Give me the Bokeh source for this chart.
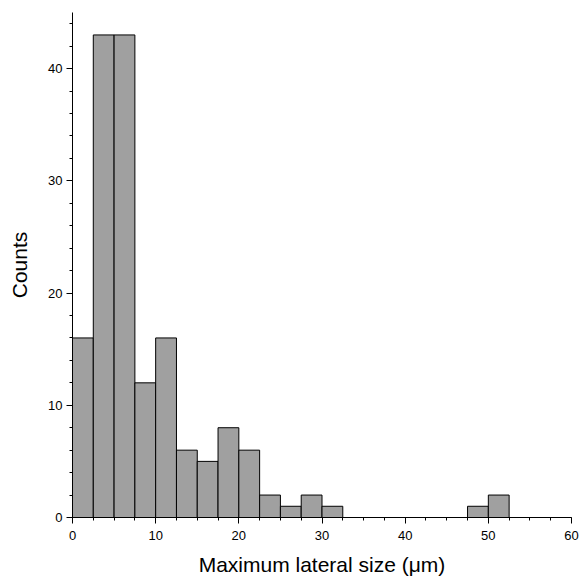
from bokeh.plotting import figure
from bokeh.models import Range1d, SingleIntervalTicker
from bokeh.embed import file_html
from bokeh.resources import INLINE

# Histogram bins (µm) and counts
bin_left = [0, 2.5, 5, 7.5, 10, 12.5, 15, 17.5, 20, 22.5, 25, 27.5, 30, 47.5, 50]
bin_right = [2.5, 5, 7.5, 10, 12.5, 15, 17.5, 20, 22.5, 25, 27.5, 30, 32.5, 50, 52.5]
counts = [16, 43, 43, 12, 16, 6, 5, 8, 6, 2, 1, 2, 1, 1, 2]

FONT = "Liberation Sans"

p = figure(output_backend="svg", toolbar_location=None,
           frame_width=499, frame_height=505,
           x_range=Range1d(0, 60), y_range=Range1d(0, 45),
           min_border_left=72, min_border_right=8, min_border_top=12, min_border_bottom=50)

p.quad(left=bin_left, right=bin_right, bottom=0, top=counts,
       fill_color="#a0a0a0", line_color="black", line_width=1)

p.xgrid.visible = False
p.ygrid.visible = False
p.outline_line_color = None

p.xaxis.ticker = SingleIntervalTicker(interval=10, num_minor_ticks=4)
p.yaxis.ticker = SingleIntervalTicker(interval=10, num_minor_ticks=5)

for ax in (p.xaxis[0], p.yaxis[0]):
    ax.axis_line_color = "black"
    ax.major_tick_line_color = "black"
    ax.minor_tick_line_color = "black"
    ax.major_tick_in = 0
    ax.minor_tick_in = 0
    ax.major_tick_out = 6
    ax.minor_tick_out = 3
    ax.major_label_text_font = FONT
    ax.major_label_text_font_size = "13px"
    ax.major_label_text_color = "black"
    ax.axis_label_text_font = FONT
    ax.axis_label_text_font_size = "21px"
    ax.axis_label_text_font_style = "normal"
    ax.axis_label_text_color = "black"

p.xaxis.axis_label = "Maximum lateral size (μm)"
p.yaxis.axis_label = "Counts"
p.xaxis.major_label_standoff = 7
p.yaxis.major_label_standoff = 4
p.xaxis.axis_label_standoff = 10
p.yaxis.axis_label_standoff = 14

open("out.html", "w").write(file_html(p, INLINE))
